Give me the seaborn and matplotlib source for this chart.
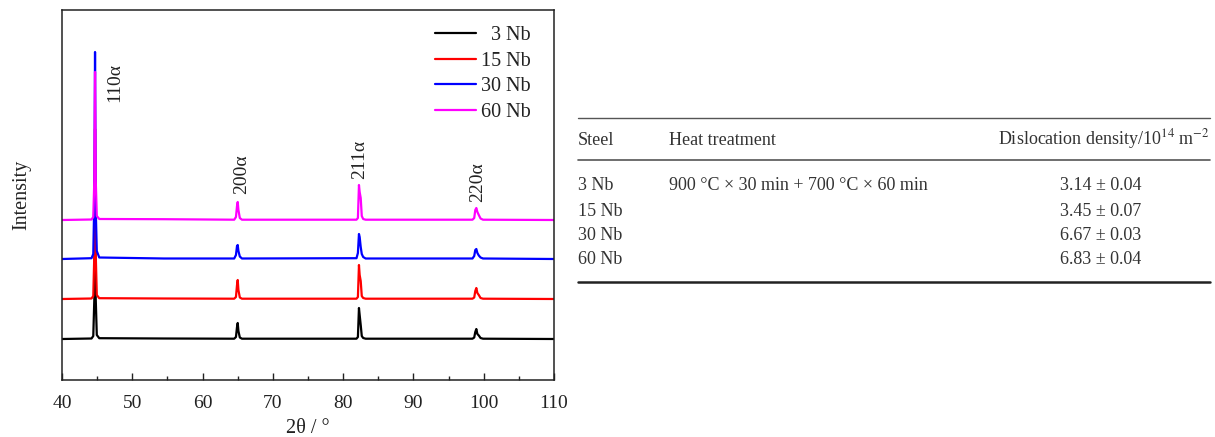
import numpy as np
import pandas as pd
import matplotlib
matplotlib.use("Agg")
import matplotlib.pyplot as plt
from matplotlib.lines import Line2D
from matplotlib.ticker import MultipleLocator
import seaborn as sns

# ---------------- data ----------------
samples = ["3 Nb", "15 Nb", "30 Nb", "60 Nb"]
colors = ["#000000", "#ff0000", "#0000ff", "#ff00ff"]

two_theta = [40, 44.2, 44.45, 44.6, 44.7, 44.8, 44.95, 45.3, 54.5,
             64.5, 64.75, 64.9, 65.0, 65.1, 65.3, 65.6,
             81.9, 82.1, 82.25, 82.35, 82.5, 82.65, 82.85, 83.2,
             98.4, 98.65, 98.8, 98.95, 99.1, 99.3, 99.55, 99.9, 110]

int_3nb = [0, 0.5, 3, 40, 160, 40, 4, 0.8, 0.5,
           0.3, 2, 12, 16, 8, 1.5, 0.3,
           0.3, 2, 31, 24, 14, 3, 1, 0.3,
           0.3, 1.5, 7, 10, 5, 3.5, 1, 0.3, 0]
int_15nb = [0, 0.5, 3, 45, 170, 45, 4, 0.8, 0.5,
            0.3, 2, 14, 19, 9, 1.5, 0.3,
            0.3, 2, 34, 24, 18, 3, 1, 0.3,
            0.3, 1.5, 8, 11, 6, 4, 1, 0.3, 0]
int_30nb = [0, 0.8, 5, 60, 207, 50, 8, 1.5, 0.5,
            0.5, 4, 13, 14, 8, 2.5, 0.5,
            0.8, 6, 25, 22, 12, 5, 2, 0.5,
            0.5, 3, 9, 10, 6, 3.5, 1.5, 0.5, 0]
int_60nb = [0, 0.5, 3, 40, 148, 40, 4, 1, 0.8,
            0.3, 3, 14, 18, 10, 2, 0.3,
            0.3, 2, 35, 28, 22, 4, 1, 0.3,
            0.3, 2, 10, 12, 8, 5, 1.5, 0.3, 0]
intensities = [int_3nb, int_15nb, int_30nb, int_60nb]

peak_labels = ["110α", "200α", "211α", "220α"]
peak_label_x = [47.5, 65.5, 82.4, 99.2]
peak_label_y = [278, 186, 201, 178]

# table
steels = ["3 Nb", "15 Nb", "30 Nb", "60 Nb"]
heat_treatment = ["900 °C × 30 min + 700 °C × 60 min", "", "", ""]
disloc_density = [3.14, 3.45, 6.67, 6.83]
disloc_err = [0.04, 0.07, 0.03, 0.04]

# ---------------- style ----------------
sns.set_theme(style="ticks")
plt.rcParams["font.family"] = ["Liberation Serif", "DejaVu Serif"]
plt.rcParams["mathtext.fontset"] = "stix"

offsets = [41, 81, 121, 160]

rows = []
for s, vals, off in zip(samples, intensities, offsets):
    for x, v in zip(two_theta, vals):
        rows.append({"two_theta": x, "intensity": v + off, "sample": s})
df = pd.DataFrame(rows)

fig = plt.figure(figsize=(12.15, 4.37), dpi=100)
ax = fig.add_axes([62 / 1215, 1 - 380 / 437, (554 - 62) / 1215, 370 / 437])

sns.lineplot(data=df, x="two_theta", y="intensity", hue="sample",
             hue_order=samples, palette=colors, sort=False, estimator=None,
             linewidth=1.6, ax=ax, legend=False)

ax.set_xlim(40, 110)
ax.set_ylim(0, 370)
ax.xaxis.set_major_locator(MultipleLocator(10))
ax.xaxis.set_minor_locator(MultipleLocator(5))
ax.set_yticks([])
ax.tick_params(axis="x", which="major", direction="in", length=5, width=1,
               labelsize=14, pad=11, colors="#222222")
ax.tick_params(axis="x", which="minor", direction="in", length=3, width=1,
               colors="#222222")
for sp in ax.spines.values():
    sp.set_visible(True)
    sp.set_color("#222222")
    sp.set_linewidth(1.1)

ax.set_xlabel("2θ / °", fontsize=14.5, labelpad=5, color="#222222")
ax.set_ylabel("Intensity", fontsize=14.5, labelpad=22, color="#222222")

for lab, lx, ly in zip(peak_labels, peak_label_x, peak_label_y):
    ax.text(lx, ly, lab, rotation=90, ha="center", va="bottom",
            fontsize=14, color="#222222")

handles = [Line2D([0], [0], color=c, lw=1.6) for c in colors]
leg_labels = ["  " + s if len(s) < 5 else s for s in samples]
leg = ax.legend(handles, leg_labels, loc="upper right", frameon=False,
                bbox_to_anchor=(0.952, 0.956), borderaxespad=0, borderpad=0,
                fontsize=14.5, handlelength=2.0, handletextpad=0.25,
                labelspacing=0.32)
for t in leg.get_texts():
    t.set_color("#222222")

# ---------------- table ----------------
W, H = 1215, 437
def fx(px):
    return px / W
def fy(py):
    return 1 - py / H

tcol = "#333333"
fig.add_artist(Line2D([fx(578), fx(1210)], [fy(118), fy(118)],
                      transform=fig.transFigure, color="#555555", lw=1.0))
fig.add_artist(Line2D([fx(578), fx(1210)], [fy(160), fy(160)],
                      transform=fig.transFigure, color="#555555", lw=1.2))
fig.add_artist(Line2D([fx(578), fx(1210)], [fy(282), fy(282)],
                      transform=fig.transFigure, color="#222222", lw=1.8))

fs = 13
fig.text(fx(578), fy(140), "Steel", ha="left", va="center", fontsize=fs, color=tcol)
fig.text(fx(669), fy(140), "Heat treatment", ha="left", va="center", fontsize=fs, color=tcol)
fig.text(fx(1210), fy(139), r"Dislocation density/10$^{14}$ m$^{-2}$",
         ha="right", va="center", fontsize=fs, color=tcol)

row_y = [186, 211, 235, 260]
for s, ht, d, e, y in zip(steels, heat_treatment, disloc_density, disloc_err, row_y):
    fig.text(fx(578), fy(y), s, ha="left", va="center", fontsize=fs, color=tcol)
    if ht:
        fig.text(fx(669), fy(y), ht, ha="left", va="center", fontsize=fs, color=tcol)
    fig.text(fx(1101), fy(y), f"{d:.2f} ± {e:.2f}", ha="center", va="center",
             fontsize=fs, color=tcol)

fig.savefig("out.png", dpi=100)
